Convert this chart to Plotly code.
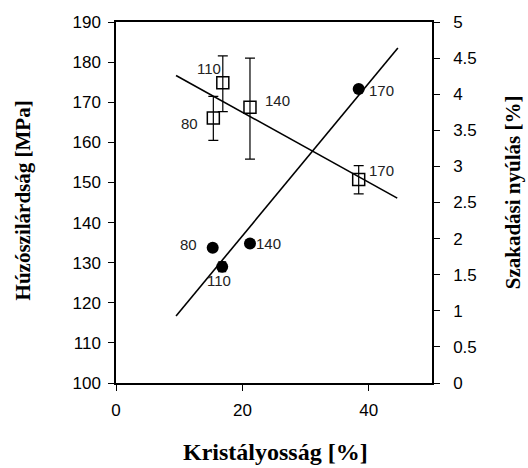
import plotly.graph_objects as go

# Data
labels = ["80", "110", "140", "170"]
crystallinity = [15.3, 16.8, 21.2, 38.4]
tensile = [133.7, 129.0, 134.8, 173.3]
tensile_err = [0.0, 1.2, 0.0, 0.0]
cryst_sq = [15.4, 16.9, 21.2, 38.4]
elongation = [3.67, 4.16, 3.82, 2.82]
elong_err_plus = [0.30, 0.37, 0.68, 0.19]
elong_err_minus = [0.31, 0.40, 0.72, 0.20]

fit_tensile_x = [9.5, 44.6]
fit_tensile_y = [116.7, 183.5]
fit_elong_x = [9.5, 44.5]
fit_elong_y = [4.26, 2.56]

x_title = "Kristályosság [%]"
y_title = "Húzószilárdság [MPa]"
y2_title = "Szakadási nyúlás [%]"

fig = go.Figure()

fig.add_trace(go.Scatter(x=fit_tensile_x, y=fit_tensile_y, mode="lines",
                         line=dict(color="black", width=1.6), showlegend=False))
fig.add_trace(go.Scatter(x=fit_elong_x, y=fit_elong_y, mode="lines", yaxis="y2",
                         line=dict(color="black", width=1.6), showlegend=False))

fig.add_trace(go.Scatter(x=crystallinity, y=tensile, mode="markers",
                         marker=dict(symbol="circle", size=12, color="black"),
                         error_y=dict(type="data", array=tensile_err, color="black",
                                      thickness=1.4, width=4),
                         showlegend=False))
fig.add_trace(go.Scatter(x=cryst_sq, y=elongation, mode="markers", yaxis="y2",
                         marker=dict(symbol="square-open", size=12, color="black",
                                     line=dict(width=1.5)),
                         error_y=dict(type="data", symmetric=False, array=elong_err_plus,
                                      arrayminus=elong_err_minus, color="black",
                                      thickness=1.2, width=5),
                         showlegend=False))

circ_shift = [(-24, 3), (-3, -14), (19, 0), (23, -2)]
sq_shift = [(-24, -5), (-14, 14), (28, 7), (23, 9)]
lab_font = dict(family="Liberation Sans, Arial", size=15, color="#222")
for i, lab in enumerate(labels):
    fig.add_annotation(x=crystallinity[i], y=tensile[i], xref="x", yref="y", text=lab,
                       showarrow=False, xshift=circ_shift[i][0], yshift=circ_shift[i][1],
                       font=lab_font)
    fig.add_annotation(x=cryst_sq[i], y=elongation[i], xref="x", yref="y2", text=lab,
                       showarrow=False, xshift=sq_shift[i][0], yshift=sq_shift[i][1],
                       font=lab_font)

tick_font = dict(family="Liberation Sans, Arial", size=17, color="black")
serif = "Liberation Serif, Times New Roman"

fig.add_annotation(xref="paper", yref="paper", x=0.506, y=-0.19, text="<b>%s</b>" % x_title,
                   xanchor="center", yanchor="middle",
                   showarrow=False, font=dict(family=serif, size=24, color="black"))
fig.add_annotation(xref="paper", yref="paper", x=-0.294, y=0.506, text="<b>%s</b>" % y_title,
                   xanchor="center", yanchor="middle",
                   showarrow=False, textangle=-90, font=dict(family=serif, size=21, color="black"))
fig.add_annotation(xref="paper", yref="paper", x=1.256, y=0.528, text="<b>%s</b>" % y2_title,
                   xanchor="center", yanchor="middle",
                   showarrow=False, textangle=-90, font=dict(family=serif, size=21, color="black"))

fig.update_layout(
    width=528, height=468,
    margin=dict(l=116, r=96, t=22, b=85),
    plot_bgcolor="white", paper_bgcolor="white",
    xaxis=dict(range=[0, 50], tickvals=[0, 20, 40], showline=True, linecolor="black",
               linewidth=1.5, mirror=True, ticks="outside", ticklen=6, tickcolor="black",
               showgrid=False, zeroline=False, tickfont=tick_font, ticklabelstandoff=5),
    yaxis=dict(range=[100, 190], dtick=10, showline=True, linecolor="black",
               linewidth=1.5, ticks="outside", ticklen=6, tickcolor="black",
               showgrid=False, zeroline=False, tickfont=tick_font, ticklabelstandoff=4),
    yaxis2=dict(range=[0, 5], dtick=0.5, overlaying="y", side="right", showline=True,
                linecolor="black", linewidth=1.5, ticks="outside", ticklen=6,
                tickcolor="black", showgrid=False, zeroline=False, tickfont=tick_font,
                ticklabelstandoff=10),
)

fig.write_html("out.html")
